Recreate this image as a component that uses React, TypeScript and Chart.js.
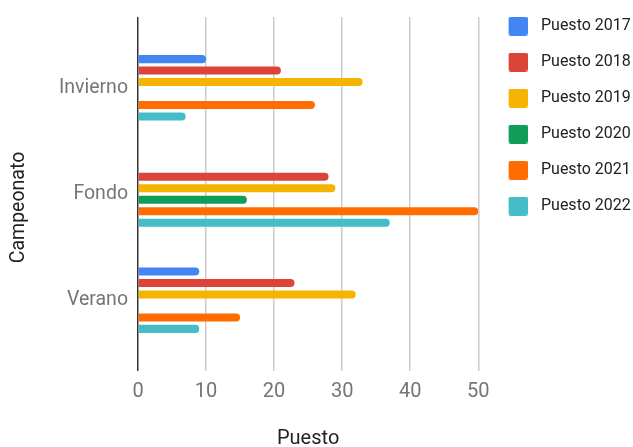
import React, { useEffect, useRef } from "react";
import { Chart, registerables } from "chart.js";

Chart.register(...registerables);

const categories = ["Invierno", "Fondo", "Verano"];
const seriesNames = ["Puesto 2017", "Puesto 2018", "Puesto 2019", "Puesto 2020", "Puesto 2021", "Puesto 2022"];
const puesto2017 = [10, null, 9];
const puesto2018 = [21, 28, 23];
const puesto2019 = [33, 29, 32];
const puesto2020 = [null, 16, null];
const puesto2021 = [26, 50, 15];
const puesto2022 = [7, 37, 9];
const seriesValues = [puesto2017, puesto2018, puesto2019, puesto2020, puesto2021, puesto2022];
const seriesColors = ["#4285F4", "#DB4437", "#F4B400", "#0F9D58", "#FF6D01", "#46BDC6"];
const xTickValues = [0, 10, 20, 30, 40, 50];
const xTitle = "Puesto";
const yTitle = "Campeonato";

const FONT = "Roboto";

function makeBox(color: string) {
  const c = document.createElement("canvas");
  c.width = 24;
  c.height = 19;
  const g = c.getContext("2d")!;
  g.fillStyle = color;
  g.beginPath();
  (g as any).roundRect ? (g as any).roundRect(5, 0, 19, 19, 2) : g.rect(5, 0, 19, 19);
  g.fill();
  return c;
}

export default function App() {
  const ref = useRef<HTMLCanvasElement | null>(null);

  useEffect(() => {
    document.body.style.margin = "0";
    const boxes = seriesColors.map(makeBox);
    const yTitlePlugin = {
      id: "yTitlePlugin",
      afterDraw(chart: any) {
        const ctx = chart.ctx;
        const area = chart.chartArea;
        ctx.save();
        ctx.font = `19.5px ${FONT}`;
        ctx.fillStyle = "#222222";
        ctx.textAlign = "center";
        ctx.textBaseline = "alphabetic";
        ctx.translate(24, (area.top + area.bottom + 27) / 2);
        ctx.rotate(-Math.PI / 2);
        ctx.fillText(yTitle, 0, 0);
        ctx.restore();
      },
    };
    const chart = new Chart(ref.current!, {
      type: "bar",
      data: {
        datasets: seriesNames.map((name, si) => ({
          label: name,
          data: seriesValues[si].map((v, i) => ({ x: v, y: i })),
          xAxisID: "x",
          yAxisID: "y",
          backgroundColor: seriesColors[si],
          borderRadius: 4,
          borderSkipped: "start",
          categoryPercentage: 0.648,
          barPercentage: 0.7,
        })),
      } as any,
      options: {
        indexAxis: "y",
        animation: false,
        responsive: false,
        layout: { padding: { top: -2, left: 0, right: -4.7, bottom: 0 } },
        plugins: {
          tooltip: { enabled: false },
          legend: {
            position: "right",
            align: "start",
            labels: {
              usePointStyle: true,
              pointStyleWidth: 34.7,
              padding: 20,
              color: "#222222",
              font: { family: FONT, size: 16 },
              generateLabels: (ch: any) => {
                const items = Chart.defaults.plugins.legend.labels.generateLabels(ch);
                items.forEach((it: any) => {
                  it.pointStyle = boxes[it.datasetIndex];
                });
                return items;
              },
            },
          },
        },
        scales: {
          x: {
            type: "linear",
            position: "bottom",
            min: 0,
            max: 50,
            offset: false,
            afterBuildTicks: (s: any) => {
              s.ticks = xTickValues.map((v) => ({ value: v }));
            },
            afterFit: (s: any) => {
              s.height = 76;
            },
            ticks: { color: "#757575", font: { family: FONT, size: 20 }, padding: 9 },
            grid: {
              drawTicks: false,
              offset: false,
              color: (c: any) => (c.tick && c.tick.value === 0 ? "#333333" : "#cccccc"),
              lineWidth: 1.5,
            },
            border: { display: false },
            title: {
              display: true,
              text: xTitle,
              color: "#222222",
              font: { family: FONT, size: 20 },
              padding: { top: 0, bottom: -4 },
            },
          },
          xTop: {
            type: "linear",
            position: "top",
            display: true,
            ticks: { display: false },
            grid: { display: false, drawTicks: false },
            border: { display: false },
            afterFit: (s: any) => {
              s.height = 19;
            },
          },
          y: {
            type: "linear",
            position: "left",
            reverse: true,
            offset: false,
            min: -2 / 3,
            max: 8 / 3,
            afterBuildTicks: (s: any) => {
              s.ticks = categories.map((_, i) => ({ value: i }));
            },
            afterFit: (s: any) => {
              s.width = 138;
              s.paddingTop = 0;
              s.paddingBottom = 0;
            },
            ticks: {
              color: "#757575",
              font: { family: FONT, size: 19.5 },
              padding: 10,
              callback: (v: any) => categories[v] ?? "",
            },
            grid: { display: false, offset: false, drawTicks: false },
            border: { display: false },
          },
        },
      } as any,
      plugins: [yTitlePlugin],
    });
    return () => chart.destroy();
  }, []);

  return (
    <div style={{ width: 633, height: 447 }}>
      <canvas ref={ref} width={633} height={447} style={{ display: "block" }} />
    </div>
  );
}
